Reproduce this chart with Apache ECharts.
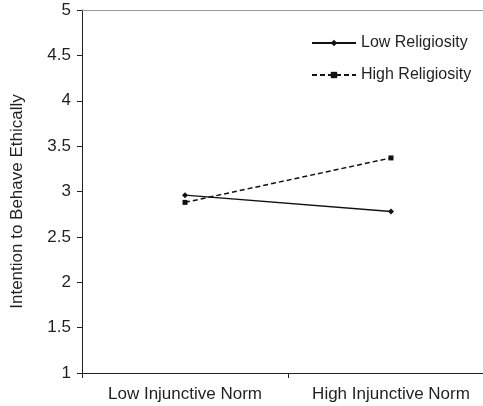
<!DOCTYPE html>
<html><head><meta charset="utf-8">
<script src="https://cdn.jsdelivr.net/npm/echarts@6/dist/echarts.min.js"></script>
<style>html,body{margin:0;padding:0;background:#fff;overflow:hidden;width:483px;height:406px}#c{width:494px;height:406px}</style>
</head><body><div id="c"></div>
<script>
const categories = ['Low Injunctive Norm', 'High Injunctive Norm'];
const lowReligiosity = [2.96, 2.78];
const highReligiosity = [2.88, 3.37];
const seriesNames = ['Low Religiosity', 'High Religiosity'];
const yAxisTitle = 'Intention to Behave Ethically';

const chart = echarts.init(document.getElementById('c'), null, {renderer: 'canvas'});
const font = 'Liberation Sans, Arial, Helvetica, sans-serif';
const txt = '#231f20';
chart.setOption({
  animation: false,
  backgroundColor: '#fff',
  textStyle: {fontFamily: font},
  grid: {left: 82, top: 10, right: 0, bottom: 33},
  legend: {
    orient: 'vertical', left: 306, top: 30, itemGap: 16,
    itemWidth: 44, itemHeight: 8,
    textStyle: {fontFamily: font, fontSize: 16, color: txt},
    data: seriesNames
  },
  xAxis: [{
    type: 'category', data: categories, boundaryGap: true,
    axisLine: {lineStyle: {color: '#222', width: 1}},
    axisTick: {show: true, length: 5, lineStyle: {color: '#222'}},
    axisLabel: {fontFamily: font, fontSize: 17, color: txt, margin: 13},
    splitLine: {show: false}
  }, {
    type: 'category', data: categories, position: 'top', boundaryGap: true,
    axisLine: {lineStyle: {color: '#999', width: 1}},
    axisTick: {show: false}, axisLabel: {show: false}, splitLine: {show: false}
  }],
  yAxis: {
    type: 'value', min: 1, max: 5, interval: 0.5,
    name: yAxisTitle, nameLocation: 'middle', nameGap: 56, nameRotate: 90,
    nameTextStyle: {fontFamily: font, fontSize: 17, color: txt, padding: [0, 20, 0, 0]},
    axisLine: {show: true, lineStyle: {color: '#222', width: 1}},
    axisTick: {show: true, length: 5, inside: false, lineStyle: {color: '#222'}},
    axisLabel: {fontFamily: font, fontSize: 17, color: txt, margin: 11},
    splitLine: {show: false}
  },
  series: [{
    name: seriesNames[0], type: 'line', data: lowReligiosity,
    symbol: 'diamond', symbolSize: [6, 6], showAllSymbol: true,
    itemStyle: {color: '#111'},
    lineStyle: {color: '#111', width: 1.4, type: 'solid'}
  }, {
    name: seriesNames[1], type: 'line', data: highReligiosity,
    symbol: 'rect', symbolSize: 5, showAllSymbol: true,
    itemStyle: {color: '#111'},
    lineStyle: {color: '#111', width: 1.5, type: [5, 3]}
  }]
});
</script></body></html>
